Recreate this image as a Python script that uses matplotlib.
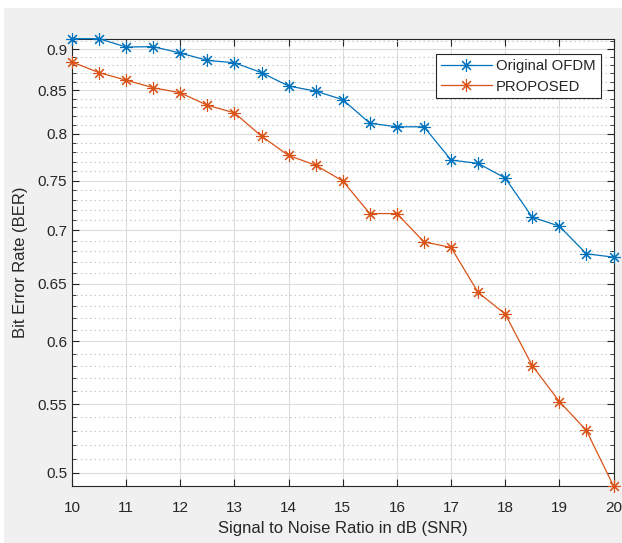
import matplotlib
matplotlib.use("Agg")
import matplotlib.pyplot as plt
from matplotlib.ticker import FixedLocator, FixedFormatter, NullFormatter
import matplotlib.patches as mpatches

plt.rcParams['font.family'] = ['Liberation Sans', 'DejaVu Sans']

snr = [10, 10.5, 11, 11.5, 12, 12.5, 13, 13.5, 14, 14.5, 15, 15.5, 16, 16.5,
       17, 17.5, 18, 18.5, 19, 19.5, 20]
ber_original = [0.913, 0.913, 0.9025, 0.903, 0.895, 0.886, 0.883, 0.871, 0.855, 0.849,
                0.839, 0.812, 0.808, 0.808, 0.7716, 0.768, 0.7526, 0.7128, 0.704,
                0.6775, 0.6744]
ber_proposed = [0.884, 0.871, 0.862, 0.853, 0.847, 0.8325, 0.8238, 0.7975, 0.7765,
                0.7661, 0.7495, 0.7164, 0.7164, 0.6888, 0.6835, 0.6422, 0.6232,
                0.5802, 0.552, 0.5303, 0.491]
series_names = ["Original OFDM", "PROPOSED"]
x_ticks = [10, 11, 12, 13, 14, 15, 16, 17, 18, 19, 20]
y_ticks = [0.5, 0.55, 0.6, 0.65, 0.7, 0.75, 0.8, 0.85, 0.9]
y_tick_labels = ["0.5", "0.55", "0.6", "0.65", "0.7", "0.75", "0.8", "0.85", "0.9"]

fig = plt.figure(figsize=(6.22, 5.43), dpi=100)
fig.patch.set_facecolor('#f0f0f0')
# white screenshot margins
fig.patches.append(mpatches.Rectangle((0, 1 - 8/543), 1, 8/543, transform=fig.transFigure,
                                      facecolor='white', edgecolor='none', zorder=-1))
fig.patches.append(mpatches.Rectangle((0, 0), 4/622, 1, transform=fig.transFigure,
                                      facecolor='white', edgecolor='none', zorder=-1))

ax = fig.add_axes([72/622, 1 - 486/543, (613.5 - 72)/622, (486 - 38.7)/543])
ax.set_facecolor('white')

asterisk = (8, 2, 0)
ax.plot(snr, ber_original, color='#0072BD', marker=asterisk, markersize=9, lw=0.9,
        markeredgewidth=0.8, label=series_names[0], clip_on=False, zorder=3)
ax.plot(snr, ber_proposed, color='#D95319', marker=asterisk, markersize=9, lw=0.9,
        markeredgewidth=0.8, label=series_names[1], clip_on=False, zorder=3)

ax.set_yscale('log')
ax.set_xlim(10, 20)
ax.set_ylim(min(ber_proposed), max(ber_original))

ax.xaxis.set_major_locator(FixedLocator(x_ticks))
ax.set_xticklabels([str(t) for t in x_ticks])
ax.yaxis.set_major_locator(FixedLocator(y_ticks))
ax.yaxis.set_major_formatter(FixedFormatter(y_tick_labels))
minor = [round(0.49 + 0.01 * i, 2) for i in range(0, 44)]
minor = [m for m in minor if all(abs(m - t) > 1e-6 for t in y_ticks)]
ax.yaxis.set_minor_locator(FixedLocator(minor))
ax.yaxis.set_minor_formatter(NullFormatter())
ax.xaxis.set_minor_locator(FixedLocator([]))

ax.grid(True, which='major', color='#dcdcdc', lw=0.8, ls='-')
ax.grid(True, which='minor', axis='y', color='#b8b8b8', lw=0.8, ls=(0, (1, 3)))
ax.set_axisbelow(True)

txt = '#262626'
for s in ax.spines.values():
    s.set_color(txt)
    s.set_linewidth(0.8)
ax.tick_params(which='both', direction='in', top=True, right=True, colors=txt,
               labelsize=11)
ax.tick_params(which='major', length=5, width=0.8)
ax.tick_params(which='minor', length=3, width=0.6)
ax.tick_params(axis='x', pad=11)

ax.set_xlabel('Signal to Noise Ratio in dB (SNR)', fontsize=12, color=txt, labelpad=4)
ax.set_ylabel('Bit Error Rate (BER)', fontsize=12, color=txt, labelpad=7)

leg = ax.legend(loc='upper right', bbox_to_anchor=(600.5/622, 1 - 54.3/543),
                bbox_transform=fig.transFigure, fancybox=False, framealpha=1,
                edgecolor='#262626', fontsize=10.7, handlelength=3.4,
                borderpad=0.32, labelspacing=0.44, handletextpad=0.3,
                borderaxespad=0)
leg.get_frame().set_linewidth(0.8)
for t in leg.get_texts():
    t.set_color(txt)

fig.savefig('out.png', dpi=100, facecolor=fig.get_facecolor())
